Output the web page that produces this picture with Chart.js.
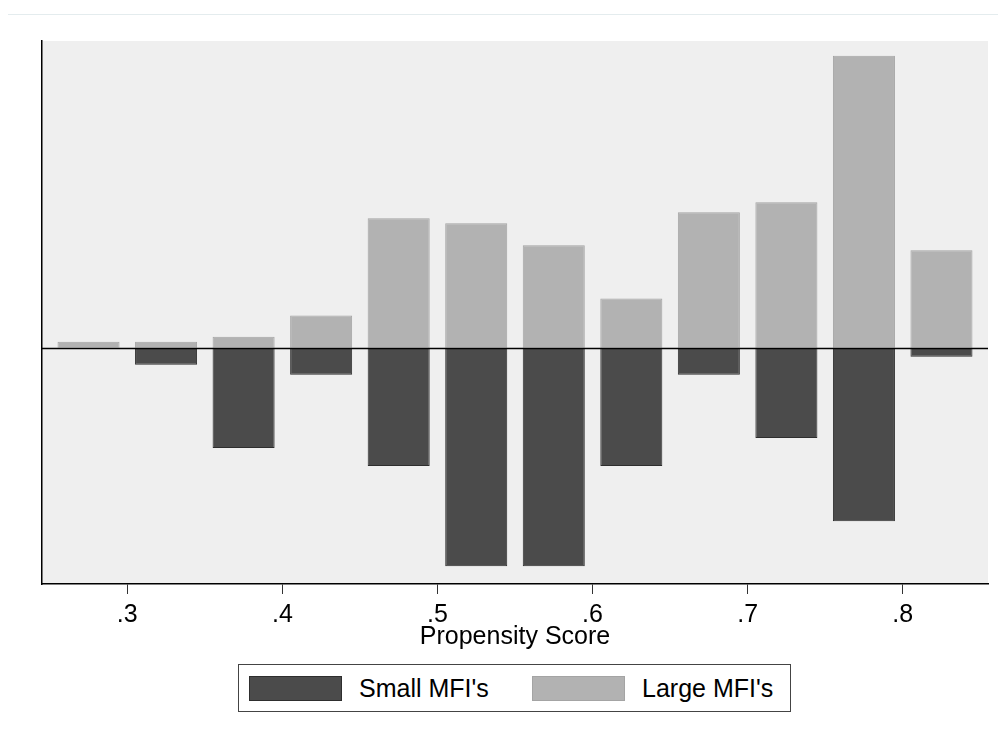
<!DOCTYPE html>
<html>
<head>
<meta charset="utf-8">
<script src="https://cdn.jsdelivr.net/npm/chart.js@4"></script>
<style>
  html, body { margin: 0; padding: 0; background: #fff; }
  body { width: 998px; height: 738px; position: relative; overflow: hidden; font-family: "Liberation Sans", Arial, sans-serif; }
  #topline { position: absolute; left: 8px; right: 0; top: 14px; height: 1px; background: #e4ecee; }
  #wrap { position: absolute; left: 0; top: 0; width: 998px; height: 656px; }
  #legend { position: absolute; left: 238px; top: 664px; width: 551px; height: 46px; border: 1px solid #444;
            box-sizing: content-box; font-size: 25px; color: #000; }
  .item { position: absolute; top: 0; height: 46px; display: flex; align-items: center; }
  .swatch { width: 93px; height: 25px; box-sizing: border-box; border: 1px solid; margin-right: 17px; }
</style>
</head>
<body>
<div id="topline"></div>
<div id="wrap"><canvas id="chart"></canvas></div>
<div id="legend"></div>
<script>
// bin midpoints of the propensity score histogram
const binCenters = [0.275, 0.325, 0.375, 0.425, 0.475, 0.525, 0.575, 0.625, 0.675, 0.725, 0.775, 0.825];
// Small MFI's drawn downward (negative), Large MFI's upward
const smallValues = [0, -0.017, -0.100, -0.027, -0.118, -0.218, -0.218, -0.118, -0.027, -0.090, -0.173, -0.009];
const largeValues = [0.006, 0.006, 0.011, 0.032, 0.129, 0.124, 0.102, 0.049, 0.135, 0.145, 0.291, 0.097];
const tickValues = [0.3, 0.4, 0.5, 0.6, 0.7, 0.8];
const tickLabels = ['.3', '.4', '.5', '.6', '.7', '.8'];
const seriesNames = ["Small MFI's", "Large MFI's"];

const FONT = '"Liberation Sans", Arial, sans-serif';

// light grey plot region behind bars
const plotBackground = {
  id: 'plotBackground',
  beforeDraw(chart) {
    const { ctx, chartArea: a } = chart;
    ctx.save();
    ctx.fillStyle = '#efefef';
    ctx.fillRect(a.left, a.top, a.right - a.left, a.bottom - a.top);
    ctx.restore();
  }
};

// horizontal line at zero
const zeroLine = {
  id: 'zeroLine',
  afterDatasetsDraw(chart) {
    const { ctx, chartArea: a } = chart;
    const y = Math.round(chart.scales.y.getPixelForValue(0)) + 0.5;
    ctx.save();
    ctx.strokeStyle = '#000';
    ctx.lineWidth = 1.3;
    ctx.beginPath();
    ctx.moveTo(a.left, y);
    ctx.lineTo(a.right, y);
    ctx.stroke();
    ctx.restore();
  }
};

const colors = [
  { fill: '#4b4b4b', border: '#2e2e2e' },
  { fill: '#b2b2b2', border: '#a4a4a4' }
];

const chart = new Chart(document.getElementById('chart'), {
  type: 'bar',
  data: {
    datasets: [
      {
        label: seriesNames[0],
        data: binCenters.map((x, i) => ({ x, y: smallValues[i] })),
        backgroundColor: colors[0].fill,
        borderColor: colors[0].border,
        borderWidth: 1
      },
      {
        label: seriesNames[1],
        data: binCenters.map((x, i) => ({ x, y: largeValues[i] })),
        backgroundColor: colors[1].fill,
        borderColor: colors[1].border,
        borderWidth: 1
      }
    ]
  },
  options: {
    responsive: true,
    maintainAspectRatio: false,
    animation: false,
    barPercentage: 0.8,
    categoryPercentage: 1.0,
    layout: { padding: { top: 41, left: 42, right: 10, bottom: 0 } },
    plugins: {
      legend: { display: false },
      tooltip: { enabled: false }
    },
    scales: {
      x: {
        type: 'linear',
        stacked: true,
        offset: false,
        min: 0.245,
        max: 0.855,
        afterBuildTicks: (scale) => { scale.ticks = tickValues.map(v => ({ value: v })); },
        grid: { display: true, drawOnChartArea: false, drawTicks: true, tickLength: 10, color: '#333', offset: false },
        border: { display: true, color: '#000', width: 1.5 },
        ticks: {
          color: '#000',
          font: { family: FONT, size: 25 },
          padding: 6,
          maxRotation: 0,
          callback: (v) => tickLabels[tickValues.findIndex(t => Math.abs(t - v) < 1e-9)]
        },
        title: {
          display: true,
          text: 'Propensity Score',
          color: '#000',
          font: { family: FONT, size: 25 },
          padding: { top: -14, bottom: 4 }
        }
      },
      y: {
        stacked: true,
        min: -0.2356,
        max: 0.3057,
        grid: { display: false, drawTicks: false },
        border: { display: true, color: '#000', width: 1.5 },
        ticks: { display: false }
      }
    }
  },
  plugins: [plotBackground, zeroLine]
});

// legend box built from the dataset labels
const legend = document.getElementById('legend');
const itemLefts = [10, 293];
chart.data.datasets.forEach((ds, i) => {
  const item = document.createElement('div');
  item.className = 'item';
  item.style.left = itemLefts[i] + 'px';
  const sw = document.createElement('div');
  sw.className = 'swatch';
  sw.style.background = ds.backgroundColor;
  sw.style.borderColor = ds.borderColor;
  const label = document.createElement('span');
  label.textContent = ds.label;
  item.appendChild(sw);
  item.appendChild(label);
  legend.appendChild(item);
});
</script>
</body>
</html>
